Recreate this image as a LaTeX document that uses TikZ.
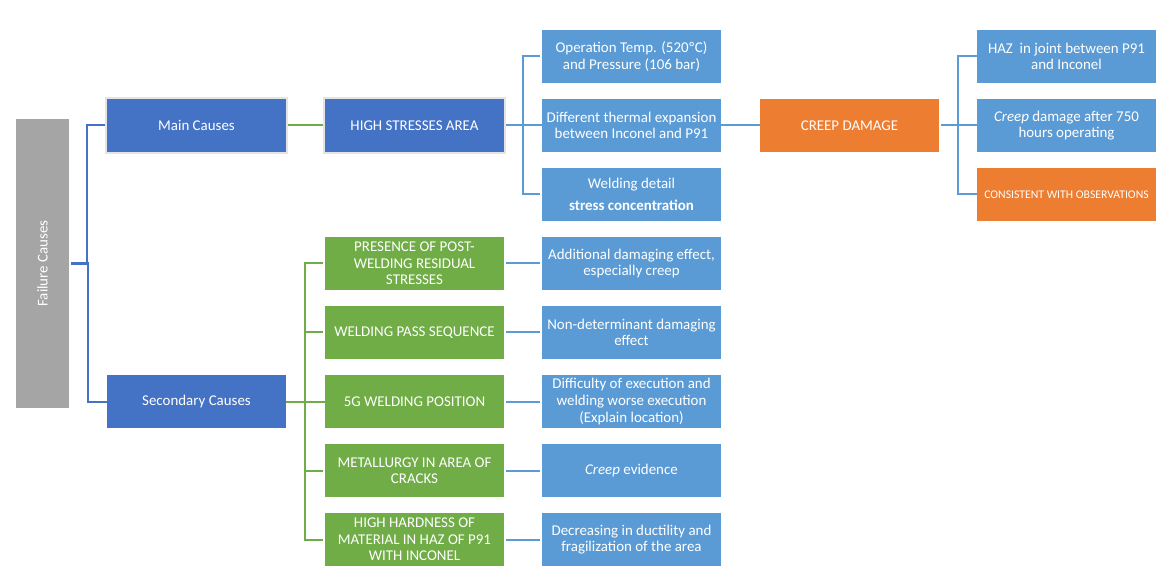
\documentclass[tikz,border=0pt]{standalone}
\usepackage{fontspec}
\setmainfont{Carlito}
\definecolor{dblue}{HTML}{4472C4}
\definecolor{lblue}{HTML}{5B9BD5}
\definecolor{grn}{HTML}{70AD47}
\definecolor{org}{HTML}{ED7D31}
\definecolor{gry}{HTML}{A5A5A5}
\definecolor{brd}{HTML}{E4E4E4}
\tikzset{
  box/.style={minimum width=134.25pt, minimum height=39.75pt, inner sep=1pt,
    text=white, align=center, font=\fontsize{11.2}{12.4}\selectfont},
  dbox/.style={box, fill=dblue},
  dboxb/.style={box, fill=dblue, draw=brd, line width=1.5pt, minimum width=135.75pt, minimum height=41.25pt},
  lbox/.style={box, fill=lblue},
  gbox/.style={box, fill=grn},
  obox/.style={box, fill=org},
  conb/.style={draw=dblue, line width=1.5pt},
  conl/.style={draw=lblue, line width=1.5pt},
  cong/.style={draw=grn, line width=1.5pt},
}
\begin{document}
\begin{tikzpicture}[x=0.75pt, y=-0.75pt]
\useasboundingbox (0,0) rectangle (1165,581);
% left
\node[fill=gry, minimum width=39.75pt, minimum height=216.75pt, inner sep=0pt] (fail) at (42.5,263.5)
  {\rotatebox{90}{\color{white}\fontsize{11.2}{12}\selectfont Failure Causes}};
\node[dboxb] (main) at (196.5,125.5) {Main Causes};
\node[dbox] (sec) at (196.5,401.5) {Secondary Causes};
\node[dboxb] (hs) at (414.5,125.5) {HIGH STRESSES AREA};
% top blue column
\node[lbox] (t1) at (631.5,56.5) {Operation Temp. (520ºC)\\and Pressure (106 bar)};
\node[lbox] (t2) at (631.5,125.5) {Different thermal expansion\\between Inconel and P91};
\node[lbox] (t3) at (631.5,194.5) {Welding detail\\[4pt]\textbf{stress concentration}};
\node[obox] (creep) at (849.5,125.5) {CREEP DAMAGE};
\node[lbox] (r1) at (1066.5,56.5) {HAZ~ in joint between P91\\and Inconel};
\node[lbox] (r2) at (1066.5,125.5) {\textit{Creep} damage after 750\\hours operating};
\node[obox, font=\fontsize{8.8}{10}\selectfont] (r3) at (1066.5,194.5) {CONSISTENT WITH OBSERVATIONS};
% green column
\node[gbox] (g1) at (414.5,263.5) {PRESENCE OF POST-\\WELDING RESIDUAL\\STRESSES};
\node[gbox] (g2) at (414.5,332.5) {WELDING PASS SEQUENCE};
\node[gbox] (g3) at (414.5,401.5) {5G WELDING POSITION};
\node[gbox] (g4) at (414.5,470.5) {METALLURGY IN AREA OF\\CRACKS};
\node[gbox] (g5) at (414.5,539.5) {HIGH HARDNESS OF\\MATERIAL IN HAZ OF P91\\WITH INCONEL};
% bottom blue column
\node[lbox] (b1) at (631.5,263.5) {Additional damaging effect,\\especially creep};
\node[lbox] (b2) at (631.5,332.5) {Non-determinant damaging\\effect};
\node[lbox] (b3) at (631.5,401.5) {Difficulty of execution and\\welding worse execution\\(Explain location)};
\node[lbox] (b4) at (631.5,470.5) {\textit{Creep} evidence};
\node[lbox] (b5) at (631.5,539.5) {Decreasing in ductility and\\fragilization of the area};
% connectors
\draw[conb, line width=2.25pt] (fail.east) ++(2,0) -- ++(17,0);
\draw[conb] (main.west) -- ++(-18,0) |- ([xshift=2pt]fail.east);
\draw[conb] (sec.west) -- ++(-19,0) |- ([xshift=2pt]fail.east);
\draw[cong] (main) -- (hs);
\draw[conl] (hs.east) -- (t2.west);
\draw[conl] (t1.west) ++(-2,0) -- ++(-17,0) |- (hs.east);
\draw[conl] (t3.west) ++(-2,0) -- ++(-17,0) |- (hs.east);
\draw[conl] (t2.east) -- (creep.west);
\draw[conl] (creep.east) ++(2,0) -- (r2.west);
\draw[conl] (r1.west) -- ++(-19,0) |- ([xshift=1.5pt]creep.east);
\draw[conl] (r3.west) -- ++(-19,0) |- ([xshift=1.5pt]creep.east);
\draw[cong] (sec.east) -- (g3.west);
\foreach \g in {g1,g2,g4,g5}{
  \draw[cong] (\g.west) ++(-2,0) -- ++(-18,0) |- ([xshift=1.5pt]sec.east);
}
\foreach \g/\b in {g1/b1,g2/b2,g3/b3,g4/b4,g5/b5}{
  \draw[conl] ([xshift=1.5pt]\g.east) -- ([xshift=-1.5pt]\b.west);
}
\end{tikzpicture}
\end{document}
